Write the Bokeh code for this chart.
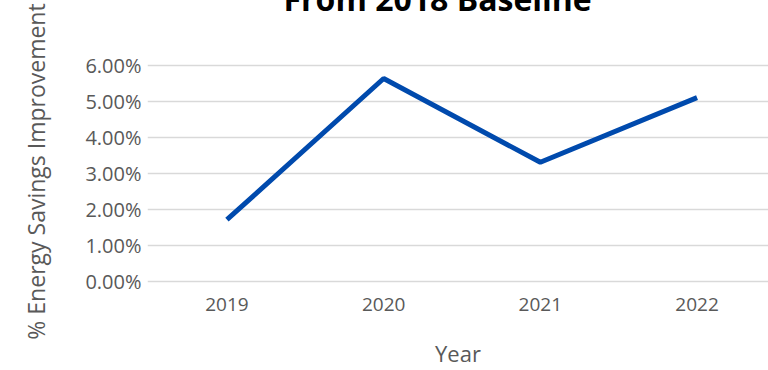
from bokeh.plotting import figure
from bokeh.models import NumeralTickFormatter, FixedTicker, Range1d
from bokeh.embed import file_html
from bokeh.resources import INLINE

years = [2019, 2020, 2021, 2022]
savings = [0.0172, 0.0563, 0.0331, 0.0510]
y_ticks = [0.0, 0.01, 0.02, 0.03, 0.04, 0.05, 0.06]
title_text = "From 2018 Baseline"
y_label = "% Energy Savings Improvement"
x_label = "Year"

FONT = "Open Sans"
GRAY = "#595959"

p = figure(width=760, height=427, output_backend="svg", toolbar_location=None,
           title=title_text,
           x_range=Range1d(2018.493, 2022.456), y_range=Range1d(-0.00185, 0.06295),
           min_border_left=139, min_border_right=0, min_border_top=0, min_border_bottom=80)
p.styles = {"position": "absolute", "top": "-57px", "left": "8px"}
p.outline_line_color = None
p.background_fill_color = "white"

p.title.text_font = FONT
p.title.text_font_style = "bold"
p.title.text_font_size = "32px"
p.title.text_color = "black"
p.title.align = "left"
p.title.vertical_align = "top"
p.title.offset = 136
p.title.standoff = 66

p.line(years, savings, line_color="#004AAD", line_width=5)

p.xgrid.grid_line_color = None
p.ygrid.grid_line_color = "#d9d9d9"
p.ygrid.grid_line_width = 1.5

p.yaxis.ticker = FixedTicker(ticks=y_ticks)
p.yaxis.formatter = NumeralTickFormatter(format="0.00%")
p.xaxis.ticker = FixedTicker(ticks=years)
p.xaxis.formatter = NumeralTickFormatter(format="0")

for ax in (p.xaxis, p.yaxis):
    ax.axis_line_color = None
    ax.major_tick_line_color = None
    ax.minor_tick_line_color = None
    ax.major_label_text_font = FONT
    ax.major_label_text_color = GRAY
    ax.axis_label_text_font = FONT
    ax.axis_label_text_font_style = "normal"
    ax.axis_label_text_color = GRAY

p.yaxis.major_label_text_font_size = "20px"
p.xaxis.major_label_text_font_size = "19px"
p.yaxis.axis_label = y_label
p.yaxis.axis_label_text_font_size = "23px"
p.yaxis.major_label_standoff = 0
p.yaxis.axis_label_standoff = 30
p.xaxis.axis_label = x_label
p.xaxis.axis_label_text_font_size = "22px"
p.xaxis.major_label_standoff = 3
p.xaxis.axis_label_standoff = 24

open("out.html", "w").write(file_html(p, INLINE))
